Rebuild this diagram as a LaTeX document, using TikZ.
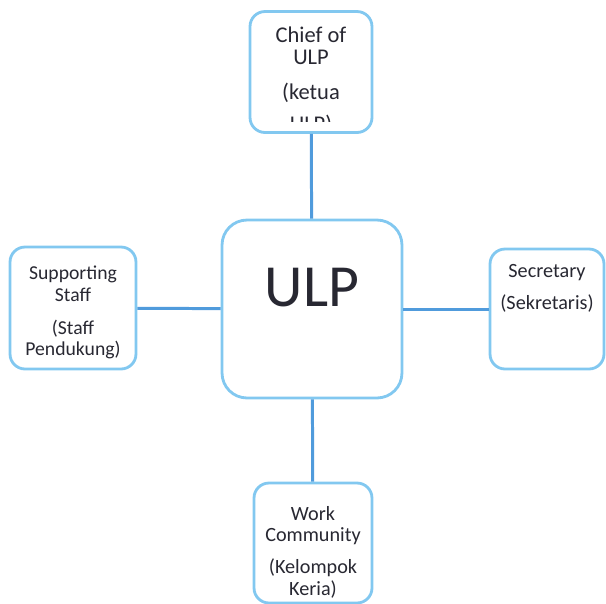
\documentclass[tikz,border=0pt]{standalone}
\usepackage{fontspec}
\setmainfont{Carlito}
\usepackage{tikz}
\definecolor{boxblue}{RGB}{130,200,240}
\definecolor{linkblue}{RGB}{80,155,220}
\definecolor{inkgray}{RGB}{40,40,50}

\begin{document}
\begin{tikzpicture}[x=0.02cm, y=-0.02cm,
                    every node/.style={text=inkgray},
                    unit/.style={draw=boxblue, line width=1.6pt,
                                  rounded corners=0.3cm, fill=white,
                                  inner sep=0pt},
                    caption/.style={anchor=north, align=center, inner sep=0pt,
                                    font=\fontsize{11.5}{12}\selectfont},
                    link/.style={draw=linkblue, line width=1.7pt}]
  \useasboundingbox (0,0) rectangle (606,603);

  % boxes
  \node[unit, minimum width=3.6cm, minimum height=3.56cm,
        rounded corners=0.5cm] (ulp) at (312,309) {};
  \node[unit, minimum width=2.44cm, minimum height=2.42cm] (chief) at (311,72) {};
  \node[unit, minimum width=2.52cm, minimum height=2.44cm] (staff) at (73,308) {};
  \node[unit, minimum width=2.28cm, minimum height=2.4cm] (sec) at (547,309) {};
  \node[unit, minimum width=2.36cm, minimum height=2.4cm] (work) at (313,543) {};

  % connectors
  \foreach \b in {chief,staff,sec,work}
    \draw[link] (ulp) -- (\b);

  % texts
  \node[font=\fontsize{34}{34}\selectfont, inner sep=0pt] (ulptext) at (312,288) {ULP};
  \begin{scope}
    \clip (252,14) rectangle (370,121);
    \node[caption, font=\fontsize{12.8}{12.5}\selectfont] (chieftext) at (311,27)
      {Chief of\\ULP\\[7pt](ketua\\[6pt]ULP)};
  \end{scope}
  \node[caption, font=\fontsize{11.2}{12.2}\selectfont] (stafftext) at (73,266)
    {Supporting\\Staff\\[6.5pt](Staff\\Pendukung)};
  \node[caption] (sectext) at (547,264) {Secretary\\[6.5pt](Sekretaris)};
  \node[caption] (worktext) at (313,506) {Work\\Community\\[6.5pt](Kelompok\\Keria)};
\end{tikzpicture}
\end{document}
